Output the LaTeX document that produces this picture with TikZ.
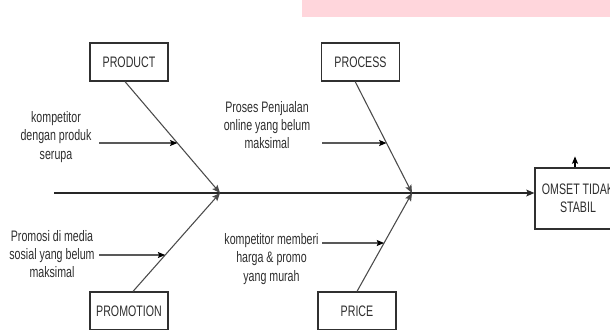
\documentclass[tikz,border=0pt]{standalone}
\usepackage{fontspec}
\setmainfont{Liberation Sans}[FakeStretch=0.7]
\usetikzlibrary{arrows.meta,calc}
\definecolor{txt}{HTML}{2E2E2E}
\definecolor{bonec}{HTML}{4A4A4A}
\definecolor{boxc}{HTML}{303030}
\definecolor{pinkc}{HTML}{FFD6DC}
\begin{document}
\begin{tikzpicture}[x=0.75pt,y=-0.75pt,
  every node/.style={font=\fontsize{11.4pt}{13.6pt}\selectfont, text=txt},
  box/.style={draw=boxc, line width=0.9pt, fill=white, minimum width=58.5pt, minimum height=28.5pt, inner sep=0pt},
  lbl/.style={align=center, inner sep=0pt},
  bone/.style={draw=bonec, line width=0.8pt, -{Stealth[length=6pt,width=5pt,inset=1.2pt]}},
  subarrow/.style={draw=black, line width=0.8pt, -{Stealth[length=5.5pt,width=4.5pt,inset=1pt]}},
  spine/.style={draw=black!85, line width=1.2pt, -{Stealth[length=6pt,width=5pt,inset=1.2pt]}}]
\useasboundingbox (0,0) rectangle (610,329);
\clip (0,0) rectangle (610,329);
\fill[pinkc] (302,0) rectangle (610,17);

% category boxes
\node[box] (prod) at (129,62) {PRODUCT};
\node[box] (proc) at (360.5,62) {PROCESS};
\node[box] (prom) at (129,311) {PROMOTION};
\node[box] (price) at (357,311) {PRICE};
\node[box, minimum width=64.5pt, minimum height=45.75pt, align=center] (omset) at (578,198.5) {OMSET TIDAK\\STABIL};

% spine and joints
\coordinate (s0) at (54,193);
\coordinate (j1) at (220,193);
\coordinate (j2) at (412,193);
\draw[spine] (s0) -- (omset.west |- s0);

% bones
\coordinate (b1) at ([xshift=-3pt]prod.south);
\coordinate (b2) at ([xshift=-4pt]proc.south);
\coordinate (b3) at ([xshift=3pt]prom.north);
\coordinate (b4) at (price.north);
\draw[bone] (b1) -- (j1);
\draw[bone] (b3) -- (j1);
\draw[bone] (b2) -- (j2);
\draw[bone] (b4) -- (j2);

% up arrow above effect
\coordinate (u0) at ([xshift=-2.25pt]omset.north);
\coordinate (u1) at ([xshift=-2.25pt,yshift=8.25pt]omset.north);
\draw[subarrow] (u0) -- (u1);

% cause labels
\node[lbl] (t1) at (56,137) {kompetitor\\dengan produk\\serupa};
\node[lbl] (t2) at (267,125) {Proses Penjualan\\online yang belum\\maksimal};
\node[lbl] (t3) at (52,254) {Promosi di media\\sosial yang belum\\maksimal};
\node[lbl] (t4) at (271.5,259) {kompetitor memberi\\harga \& promo\\yang murah};

% cause arrows
\coordinate (a1s) at (99,143);  \coordinate (a1x) at (300,143);
\coordinate (a2s) at (322,143); \coordinate (a2x) at (500,143);
\coordinate (a3s) at (99,255);  \coordinate (a3x) at (300,255);
\coordinate (a4s) at (322,243); \coordinate (a4x) at (500,243);
\coordinate (a1e) at (intersection of a1s--a1x and b1--j1);
\coordinate (a2e) at (intersection of a2s--a2x and b2--j2);
\coordinate (a3e) at (intersection of a3s--a3x and b3--j1);
\coordinate (a4e) at (intersection of a4s--a4x and b4--j2);
\draw[subarrow] (a1s) -- (a1e);
\draw[subarrow] (a2s) -- (a2e);
\draw[subarrow] (a3s) -- (a3e);
\draw[subarrow] (a4s) -- (a4e);
\end{tikzpicture}
\end{document}
